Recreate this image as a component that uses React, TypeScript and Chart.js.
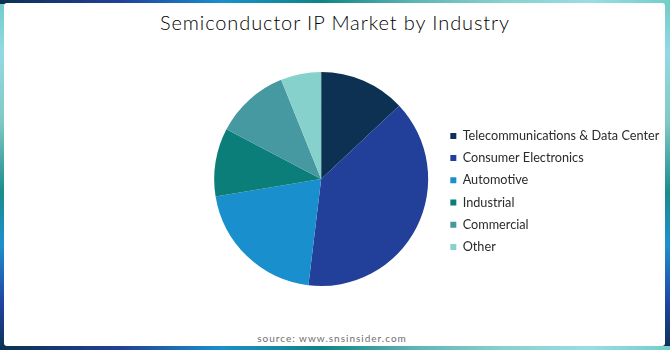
import React, { useEffect, useRef } from 'react';
import { Chart, registerables } from 'chart.js';

Chart.register(...registerables);

const categories = [
  'Telecommunications & Data Center',
  'Consumer Electronics',
  'Automotive',
  'Industrial',
  'Commercial',
  'Other',
];
const shares = [13.0, 38.9, 20.5, 10.3, 11.2, 6.1];
const sliceColors = ['#0c3152', '#22409a', '#1a8fcd', '#0b7e7a', '#4699a0', '#87d1cc'];
const titleText = 'Semiconductor IP Market by Industry';
const sourceText = 'source: www.snsinsider.com';

const sideGradient =
  'linear-gradient(to bottom, #6fcbc8 0%, #94d9e2 15%, #80c8c4 35%, #1a8c8c 55%, #1d90cf 70%, #2142a0 87%, #0b3253 100%)';
const topGradient =
  'linear-gradient(to right, #0b3253 0%, #22409a 18%, #1a8fcd 33%, #0e8585 48%, #5fb5b5 62%, #87d1cc 75%, #9adce6 88%, #72cfc6 100%)';

export default function App() {
  const canvasRef = useRef<HTMLCanvasElement | null>(null);

  useEffect(() => {
    const canvas = canvasRef.current;
    if (!canvas) return;
    const chart = new Chart(canvas, {
      type: 'pie',
      data: {
        labels: categories,
        datasets: [
          {
            data: shares,
            backgroundColor: sliceColors,
            borderWidth: 0,
            radius: 107,
          } as any,
        ],
      },
      options: {
        responsive: false,
        animation: false,
        devicePixelRatio: 1,
        layout: { padding: { left: 201.5, right: 0.7, top: 8, bottom: 0 } },
        plugins: {
          title: { display: false },
          tooltip: { enabled: false },
          legend: {
            position: 'right',
            align: 'center',
            title: { display: true, text: ' ', font: { size: 12 }, padding: 5.2 },
            labels: {
              boxWidth: 6,
              boxHeight: 6,
              padding: 9.5,
              color: '#2b2b2b',
              font: { family: 'Lato', size: 12.7 },
            },
          },
        },
      },
    });
    return () => chart.destroy();
  }, []);

  return (
    <div
      style={{
        position: 'fixed',
        left: 0,
        top: 0,
        width: 670,
        height: 350,
        background: sideGradient,
        overflow: 'hidden',
      }}
    >
      <div style={{ position: 'absolute', left: 0, top: 0, width: 670, height: 4, background: topGradient }} />
      <div style={{ position: 'absolute', left: 0, top: 346, width: 670, height: 4, background: topGradient }} />
      <div
        style={{
          position: 'absolute',
          left: 4,
          top: 3,
          width: 661,
          height: 343,
          background: '#ffffff',
          borderRadius: 3,
        }}
      />
      <div
        style={{
          position: 'absolute',
          left: 0,
          top: 10,
          width: 670,
          textAlign: 'center',
          fontFamily: 'Lato, sans-serif',
          fontSize: 20,
          fontWeight: 300,
          lineHeight: '24px',
          letterSpacing: '0.9px',
          color: '#000000',
        }}
      >
        {titleText}
      </div>
      <div
        style={{
          position: 'absolute',
          left: 0,
          top: 332,
          width: 664,
          textAlign: 'center',
          fontFamily: 'Lato, sans-serif',
          fontSize: 10,
          fontWeight: 400,
          lineHeight: '12px',
          letterSpacing: '1px',
          color: '#6e6e6e',
        }}
      >
        {sourceText}
      </div>
      <canvas
        ref={canvasRef}
        width={670}
        height={350}
        style={{ position: 'absolute', left: 0, top: 0, width: 670, height: 350 }}
      />
    </div>
  );
}
